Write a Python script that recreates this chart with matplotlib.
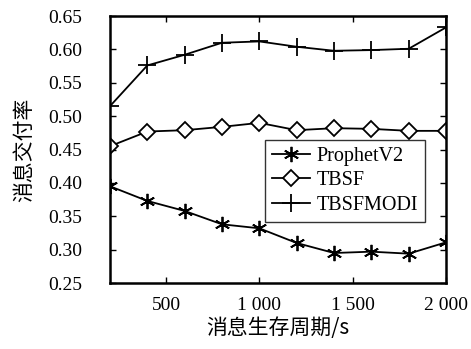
import matplotlib
matplotlib.use("Agg")
import matplotlib.pyplot as plt
from matplotlib.ticker import FuncFormatter

x = [200, 400, 600, 800, 1000, 1200, 1400, 1600, 1800, 2000]
prophet = [0.395, 0.373, 0.358, 0.338, 0.332, 0.310, 0.295, 0.297, 0.294, 0.311]
tbsf = [0.455, 0.477, 0.479, 0.484, 0.490, 0.479, 0.482, 0.481, 0.478, 0.478]
tbsfmodi = [0.515, 0.576, 0.592, 0.610, 0.612, 0.604, 0.598, 0.599, 0.601, 0.633]
xticks = [500, 1000, 1500, 2000]
yticks = [0.25, 0.30, 0.35, 0.40, 0.45, 0.50, 0.55, 0.60, 0.65]

serif = ['Liberation Serif', 'DejaVu Serif']
cjk = ['Noto Sans CJK SC', 'DejaVu Sans']

fig = plt.figure(figsize=(4.71, 3.49), dpi=100)
ax = fig.add_axes([0.2335, 0.189, 0.7135, 0.765])

ax.plot(x, prophet, color='black', lw=1.3, marker=(6, 2, 0), ms=11, mew=1.3, label='ProphetV2')
ax.plot(x, tbsf, color='black', lw=1.3, marker='D', ms=8.5, mfc='white', mew=1.3, label='TBSF')
ax.plot(x, tbsfmodi, color='black', lw=1.3, marker='+', ms=13, mew=1.3, label='TBSFMODI')

ax.set_xlim(200, 2000)
ax.set_ylim(0.25, 0.65)
ax.set_xticks(xticks)
ax.set_yticks(yticks)
ax.xaxis.set_major_formatter(FuncFormatter(lambda v, p: f"{int(v):,}".replace(",", " ")))
ax.yaxis.set_major_formatter(FuncFormatter(lambda v, p: f"{v:.2f}"))
ax.tick_params(direction='in', top=True, right=True, length=4, width=1, labelsize=14)
ax.tick_params(axis='x', pad=10)
ax.tick_params(axis='y', pad=20)
for lab in ax.get_xticklabels() + ax.get_yticklabels():
    lab.set_fontfamily(serif)
for s in ax.spines.values():
    s.set_linewidth(1.8)

ax.set_xlabel('消息生存周期/s', fontsize=15, family=cjk, labelpad=2)
ax.set_ylabel('消息交付率', fontsize=15, family=cjk, labelpad=9)

leg = ax.legend(loc='upper right', bbox_to_anchor=(0.9375, 0.535), frameon=True, fancybox=False,
                edgecolor='black', prop={'family': serif, 'size': 14.5}, handlelength=1.9,
                borderpad=0.35, labelspacing=0.25, handletextpad=0.3, borderaxespad=0.0)
leg.get_frame().set_linewidth(1.0)

fig.savefig('out.png', dpi=100)
